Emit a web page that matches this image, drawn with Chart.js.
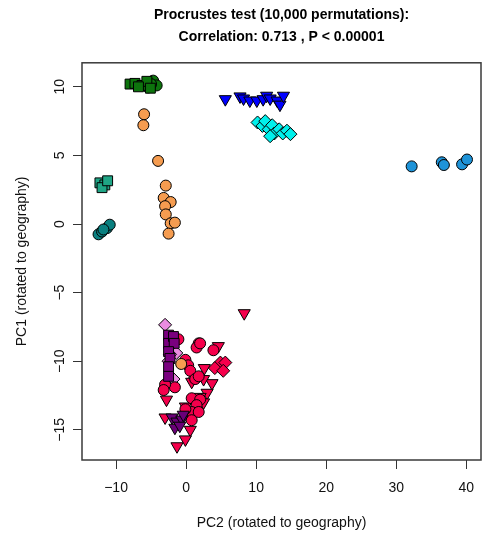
<!DOCTYPE html>
<html>
<head>
<meta charset="utf-8">
<script src="https://cdn.jsdelivr.net/npm/chart.js@4.4.6/dist/chart.umd.min.js"></script>
<style>
  html, body { margin: 0; padding: 0; background: #fff; }
  #c { display: block; }
</style>
</head>
<body>
<canvas id="c" width="489" height="541"></canvas>
<script>
// Valores: pares [PC2, PC1]
const greenSquares = [[-8.0, 10.2], [-7.3, 10.25], [-6.3, 10.1], [-5.6, 10.4], [-5.1, 9.9], [-6.8, 10.0]];
const greenCircles = [[-4.7, 10.45], [-4.2, 10.1], [-5.0, 10.2], [-5.4, 9.95]];
const orangeCircles = [[-6.0, 8.0], [-6.1, 7.2], [-4.0, 4.6], [-2.9, 2.8], [-3.2, 1.9], [-2.2, 1.6],
  [-3.0, 1.3], [-2.9, 0.7], [-2.2, 0.05], [-1.6, 0.1], [-2.5, -0.7], [-0.7, -10.2]];
const tealSquares = [[-12.3, 3.0], [-11.6, 2.85], [-12.0, 2.65], [-11.2, 3.15]];
const darkTealCircles = [[-12.5, -0.75], [-12.0, -0.55], [-11.3, -0.3], [-10.9, -0.05], [-11.8, -0.4]];
const blueTriangles = [[5.6, 9.1], [7.7, 9.3], [8.2, 9.15], [9.1, 9.0], [10.1, 9.0], [11.0, 9.1],
  [11.5, 9.35], [12.0, 9.15], [13.0, 9.0], [13.4, 8.7], [13.9, 9.35]];
const cyanDiamonds = [[10.2, 7.4], [10.9, 7.15], [11.3, 7.5], [11.8, 6.9], [12.3, 7.2], [12.6, 6.6],
  [13.3, 6.9], [13.8, 6.6], [14.4, 6.8], [14.9, 6.55], [12.0, 6.4]];
const skyCircles = [[32.2, 4.2], [36.5, 4.5], [36.8, 4.3], [39.4, 4.35], [40.1, 4.7]];
const purpleSquares = [[-2.5, -8.1], [-2.5, -8.7], [-1.8, -8.2], [-1.7, -8.7], [-2.5, -9.3],
  [-2.3, -9.8], [-2.5, -10.4], [-2.5, -11.1]];
const violetDiamonds = [[-3.0, -7.35], [-1.4, -9.4], [-2.3, -9.5], [-2.5, -10.0], [-1.8, -11.3]];
const darkPurpleTriangles = [[-2.0, -14.1], [-1.3, -14.4], [-0.6, -14.25], [-1.6, -14.85], [-0.9, -14.7], [-0.4, -13.9]];
const crimsonCircles = [[-1.1, -8.4], [1.8, -8.7], [1.5, -9.0], [2.0, -8.7], [3.9, -9.2], [-0.1, -9.9],
  [0.3, -10.3], [0.6, -10.7], [1.3, -11.3], [1.8, -11.1], [-1.6, -11.9], [-3.0, -11.7], [-3.2, -12.1],
  [0.8, -12.7], [2.0, -12.8], [1.5, -13.2], [0.8, -13.7], [1.8, -13.7], [0.8, -14.3], [-0.1, -13.5]];
const crimsonTriangles = [[8.3, -6.5], [4.6, -8.9], [2.6, -10.5], [3.7, -11.6], [3.0, -12.3], [2.0, -12.6],
  [2.5, -13.0], [0.8, -11.5], [2.5, -11.3], [-0.1, -13.3], [-2.8, -12.8], [-3.0, -14.1], [0.6, -15.0],
  [-0.1, -15.7], [-1.3, -16.2]];
const crimsonDiamonds = [[4.9, -10.1], [5.6, -10.1], [4.1, -10.5], [5.3, -10.7], [1.3, -11.2]];

const xTicks = [-10, 0, 10, 20, 30, 40];
const yTicks = [-15, -10, -5, 0, 5, 10];

const aPuntos = arr => arr.map(([x, y]) => ({ x, y }));

const serie = (datos, color, forma, radio, giro = 0) => ({
  data: aPuntos(datos),
  backgroundColor: color,
  borderColor: '#000',
  borderWidth: 1,
  pointStyle: forma,
  pointRadius: radio,
  pointHoverRadius: radio,
  rotation: giro,
});

const datasets = [
  serie(greenSquares, '#0d740d', 'rect', 7),
  serie(greenCircles, '#0d740d', 'circle', 5.5),
  serie(orangeCircles, '#f59c50', 'circle', 5.5),
  serie(tealSquares, '#1fa585', 'rect', 7),
  serie(darkTealCircles, '#0a8080', 'circle', 5.5),
  serie(blueTriangles, '#0000ff', 'triangle', 7, 180),
  serie(cyanDiamonds, '#00f0ec', 'rectRot', 6.5),
  serie(skyCircles, '#1e93d8', 'circle', 5.5),
  serie(purpleSquares, '#7a007f', 'rect', 7),
  serie(darkPurpleTriangles, '#6a0078', 'triangle', 7, 180),
  serie(crimsonCircles, '#f5004c', 'circle', 5.5),
  serie(crimsonTriangles, '#f5004c', 'triangle', 7, 180),
  serie(crimsonDiamonds, '#f5004c', 'rectRot', 6.5),
  serie(violetDiamonds, '#ea8ce0', 'rectRot', 6.5),
];

// marco del área de trazado (estilo R)
const marco = {
  id: 'marco',
  beforeDatasetsDraw(chart) {
    const { ctx, chartArea: a } = chart;
    ctx.save();
    ctx.strokeStyle = '#3a3a3a';
    ctx.lineWidth = 1.5;
    ctx.strokeRect(a.left, a.top, a.right - a.left, a.bottom - a.top);
    ctx.restore();
  },
};

const fuente = { family: 'Liberation Sans, Arial, sans-serif', size: 14 };
const menos = v => String(v).replace('-', '\u2212');

new Chart(document.getElementById('c'), {
  type: 'scatter',
  data: { datasets },
  plugins: [marco],
  options: {
    responsive: false,
    animation: false,
    devicePixelRatio: 1,
    layout: { padding: { left: 0, right: 8, top: 0, bottom: 0 } },
    plugins: {
      legend: { display: false },
      tooltip: { enabled: false },
      title: {
        display: true,
        fullSize: false,
        text: ['Procrustes test (10,000 permutations):', 'Correlation: 0.713 , P < 0.00001'],
        color: '#000',
        font: { family: 'Liberation Sans, Arial, sans-serif', size: 14, weight: 'bold', lineHeight: 1.6 },
        padding: { top: 4, bottom: 14 },
      },
    },
    scales: {
      x: {
        type: 'linear',
        min: -14.86,
        max: 42.1,
        afterBuildTicks: s => { s.ticks = xTicks.map(v => ({ value: v })); },
        afterFit: s => { s.height = 81; },
        border: { display: false },
        grid: { drawOnChartArea: false, drawTicks: true, tickLength: 9, tickColor: '#333', lineWidth: 1 },
        ticks: { color: '#111', font: fuente, padding: 11, maxRotation: 0, callback: menos },
        title: { display: true, text: 'PC2 (rotated to geography)', color: '#111', font: fuente, padding: { top: 0, bottom: 9 } },
      },
      y: {
        type: 'linear',
        min: -17.2,
        max: 11.75,
        afterBuildTicks: s => { s.ticks = yTicks.map(v => ({ value: v })); },
        afterFit: s => { s.width = 82; },
        border: { display: false },
        grid: { drawOnChartArea: false, drawTicks: true, tickLength: 9, tickColor: '#333', lineWidth: 1 },
        ticks: { color: '#111', font: fuente, padding: 1, minRotation: 90, maxRotation: 90, crossAlign: 'center', callback: menos },
        title: { display: true, text: 'PC1 (rotated to geography)', color: '#111', font: fuente, padding: { top: 14, bottom: 0 } },
      },
    },
  },
});
</script>
</body>
</html>
